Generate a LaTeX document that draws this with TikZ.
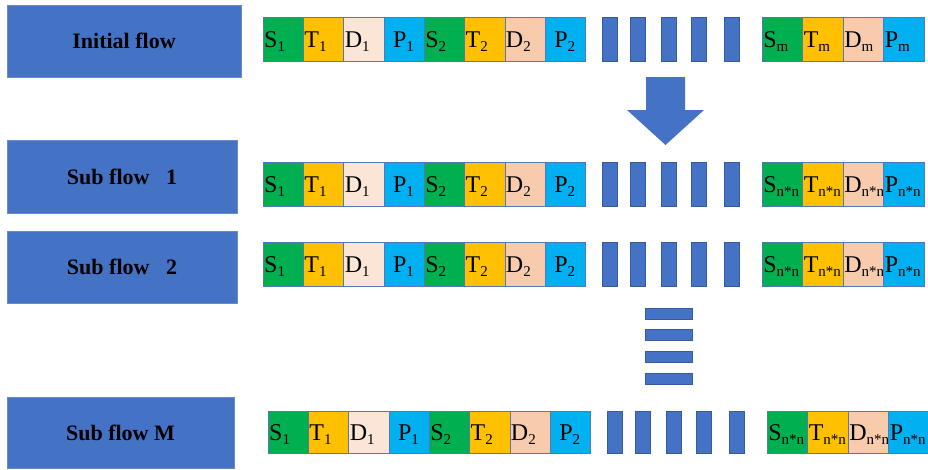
\documentclass[tikz,border=0pt]{standalone}
\usepackage{fontspec}
\setmainfont{Liberation Serif}
\newfontfamily\flowfont{Liberation Serif}
\usetikzlibrary{positioning}
\definecolor{flowblue}{HTML}{4472C4}
\definecolor{flowline}{HTML}{6A8ACB}
\definecolor{cellline}{HTML}{5577B8}
\definecolor{sgreen}{HTML}{00B050}
\definecolor{tyellow}{HTML}{FFC000}
\definecolor{dpale}{HTML}{FBE5D6}
\definecolor{dpeach}{HTML}{F8CBAD}
\definecolor{pblue}{HTML}{00B0F0}
\newcommand\cellsub[1]{\raisebox{-4pt}{\fontsize{15}{15}\selectfont #1}}
\tikzset{
  flowbox/.style ={draw=flowline, line width=0.6pt, fill=flowblue, align=center,
                   font=\flowfont\fontsize{22}{26}\selectfont\bfseries, inner sep=0pt},
  cell/.style    ={draw=cellline, line width=0.6pt, minimum width=40.3pt, inner sep=0pt,
                   text width=38pt, align=left, text height=16pt, text depth=0pt,
                   font=\flowfont\fontsize{24}{26}\selectfont},
  gapbar/.style  ={draw=flowblue!80!black, line width=0.5pt, fill=flowblue, inner sep=0pt},
}
\begin{document}
\begin{tikzpicture}[x=1pt,y=-1pt]
\useasboundingbox (0,0) rectangle (928,469);
% left column of flow labels
\node[flowbox, minimum width=234pt, minimum height=72pt] (init) at (124,41) {Initial flow};
\node[flowbox, minimum width=230pt, minimum height=73pt] (sub1) at (122,176.5) {Sub flow\ \ \ 1};
\node[flowbox, minimum width=230pt, minimum height=72pt] (sub2) at (122,267) {Sub flow\ \ \ 2};
\node[flowbox, minimum width=227pt, minimum height=71pt] (subM) at (120.5,432.5) {Sub flow M};
% one row of cells per flow: first two groups, gap bars, last group
\foreach \r/\x/\y/\h/\e in {a/263/39/44/m, b/263/184/44/n*n, c/263/264/44/n*n, d/268/432/42/n*n}{
  \foreach \t/\f/\s/\p [count=\i from 0] in {S/sgreen/1/0, T/tyellow/1/0, D/dpale/1/0, P/pblue/1/8,
                                              S/sgreen/2/0, T/tyellow/2/0, D/dpeach/2/0, P/pblue/2/8}
    \node[cell, fill=\f, minimum height=\h pt] (\r-\i) at (\x+\i*40.3+20.15,\y) {\hspace*{\p pt}\t\cellsub{\s}};
  \foreach \b [count=\j] in {339,367,398,428,461}
    \node[gapbar, minimum width=15pt, minimum height=\h pt] (\r-g\j) at (\x+\b+7.5,\y) {};
  \foreach \t/\f [count=\i from 0] in {S/sgreen, T/tyellow, D/dpeach, P/pblue}
    \node[cell, fill=\f, minimum height=\h pt] (\r-e\i) at (\x+499+\i*40.5+20.25,\y) {\t\cellsub{\e}};
}
% big arrow from the initial flow down to the sub flows
\fill[flowblue] (646,77) -- (685,77) -- (685,110) -- (704,110) -- (665.5,145)
  -- (627,110) -- (646,110) -- cycle;
% vertical ellipsis between sub flow 2 and sub flow M
\foreach \k in {0,...,3}
  \node[gapbar, minimum width=47pt, minimum height=11pt] (vdot\k) at (668.5,313.5+\k*21.7) {};
\end{tikzpicture}
\end{document}
